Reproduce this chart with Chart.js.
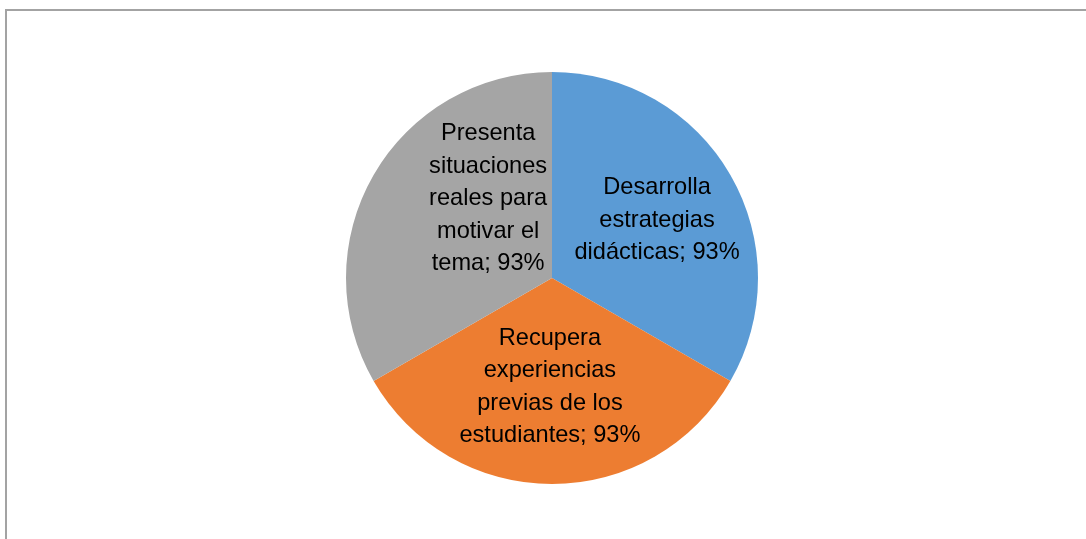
<!DOCTYPE html>
<html>
<head>
<meta charset="utf-8">
<script src="https://cdn.jsdelivr.net/npm/chart.js@4.4.0/dist/chart.umd.min.js"></script>
<style>
  html, body { margin: 0; padding: 0; background: #fff; }
  #wrap { position: relative; width: 1086px; height: 539px; }
  #frame { position: absolute; left: 5px; top: 9px; right: 0; bottom: 0;
           border-left: 2px solid #a3a3a3; border-top: 2px solid #a3a3a3; }
  canvas { position: absolute; left: 0; top: 0; }
</style>
</head>
<body>
<div id="wrap">
  <div id="frame"></div>
  <canvas id="myChart" width="1086" height="539"></canvas>
</div>
<script>
const ctx = document.getElementById('myChart').getContext('2d');

// datos
const categorias = [
    ['Desarrolla', 'estrategias', 'didácticas'],
    ['Recupera', 'experiencias', 'previas de los', 'estudiantes'],
    ['Presenta', 'situaciones', 'reales para', 'motivar el', 'tema']
]
const valores = [93, 93, 93]
const colores = ['#5b9bd5', '#ed7d31', '#a5a5a5']

// posicion de etiquetas respecto al centro (fraccion del radio)
const offsets = [
    [0.51, -0.28],
    [-0.01, 0.53],
    [-0.31, -0.385]
]

const etiquetas = {
    id: 'etiquetas',
    afterDatasetsDraw(chart) {
        const meta = chart.getDatasetMeta(0)
        const c = chart.ctx
        c.save()
        c.font = '23.6px "Liberation Sans", Arial, sans-serif'
        c.fillStyle = '#000'
        c.textAlign = 'center'
        c.textBaseline = 'middle'
        const lh = 32.5
        meta.data.forEach((arc, i) => {
            const r = arc.outerRadius
            const cx = arc.x + offsets[i][0] * r
            const cy = arc.y + offsets[i][1] * r
            const lineas = categorias[i].slice()
            const ultima = lineas.pop()
            lineas.push(ultima + '; ' + valores[i] + '%')
            const y0 = cy - (lineas.length - 1) * lh / 2
            lineas.forEach((t, j) => c.fillText(t, cx, y0 + j * lh))
        })
        c.restore()
    }
}

new Chart(ctx, {
    type: 'pie',
    data: {
        labels: categorias.map(l => l.join(' ')),
        datasets: [{
            data: valores,
            backgroundColor: colores,
            borderWidth: 0
        }]
    },
    options: {
        responsive: false,
        animation: false,
        layout: { padding: { left: 346, right: 328, top: 72, bottom: 55 } },
        plugins: {
            legend: { display: false },
            tooltip: { enabled: false }
        }
    },
    plugins: [etiquetas]
});
</script>
</body>
</html>
